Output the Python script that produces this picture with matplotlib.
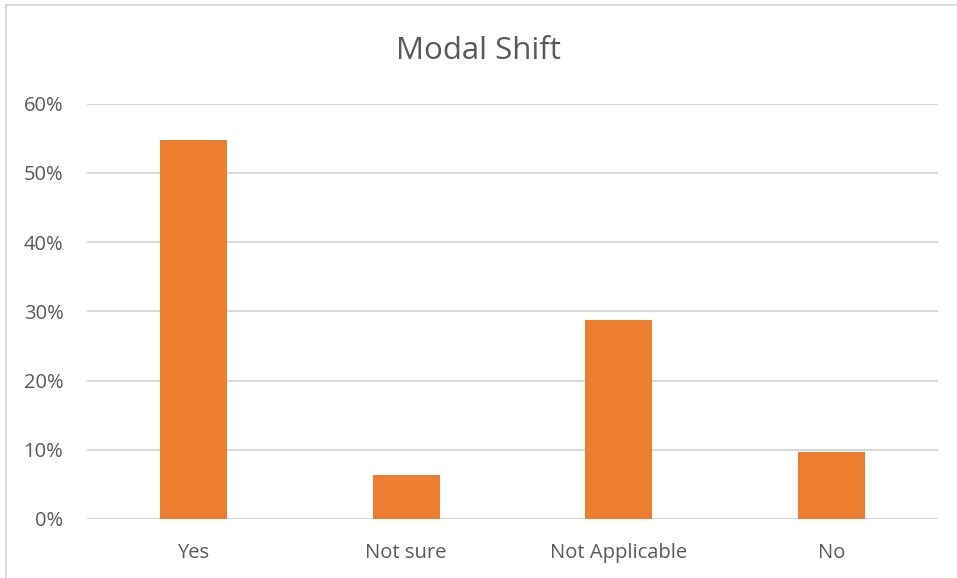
import matplotlib.pyplot as plt
from matplotlib.patches import Rectangle
from matplotlib.ticker import PercentFormatter

categories = ['Yes', 'Not sure', 'Not Applicable', 'No']
values = [0.547, 0.063, 0.288, 0.097]
y_ticks = [0, 0.1, 0.2, 0.3, 0.4, 0.5, 0.6]

plt.rcParams['font.family'] = ['Open Sans', 'DejaVu Sans']

fig = plt.figure(figsize=(9.57, 5.78), dpi=100)
# chart frame (only left/top edges visible in the crop)
fig.patches.append(Rectangle((6 / 957, -0.1), 1.2, (578 - 5) / 578 + 0.1,
                             transform=fig.transFigure, fill=False,
                             edgecolor='#d9d9d9', linewidth=1.5))

ax = fig.add_axes([87 / 957, 59 / 578, (938 - 87) / 957, (519 - 103.5) / 578])
ax.bar(range(len(categories)), values, width=0.315, color='#ED7D31', zorder=3)
ax.set_xlim(-0.5, len(categories) - 0.5)
ax.set_ylim(0, 0.6)
ax.set_yticks(y_ticks)
ax.yaxis.set_major_formatter(PercentFormatter(1.0, decimals=0))
ax.set_xticks(range(len(categories)))
ax.set_xticklabels(categories)
ax.grid(axis='y', color='#d9d9d9', linewidth=1.5, zorder=0)
for s in ax.spines.values():
    s.set_visible(False)
ax.tick_params(length=0, colors='#595959', labelsize=14.5)
ax.tick_params(axis='x', pad=17)
ax.tick_params(axis='y', pad=17)

fig.text(0.5, 1 - 51 / 578, 'Modal Shift', ha='center', va='center',
         fontsize=22.5, color='#595959')

plt.savefig('out.png')
